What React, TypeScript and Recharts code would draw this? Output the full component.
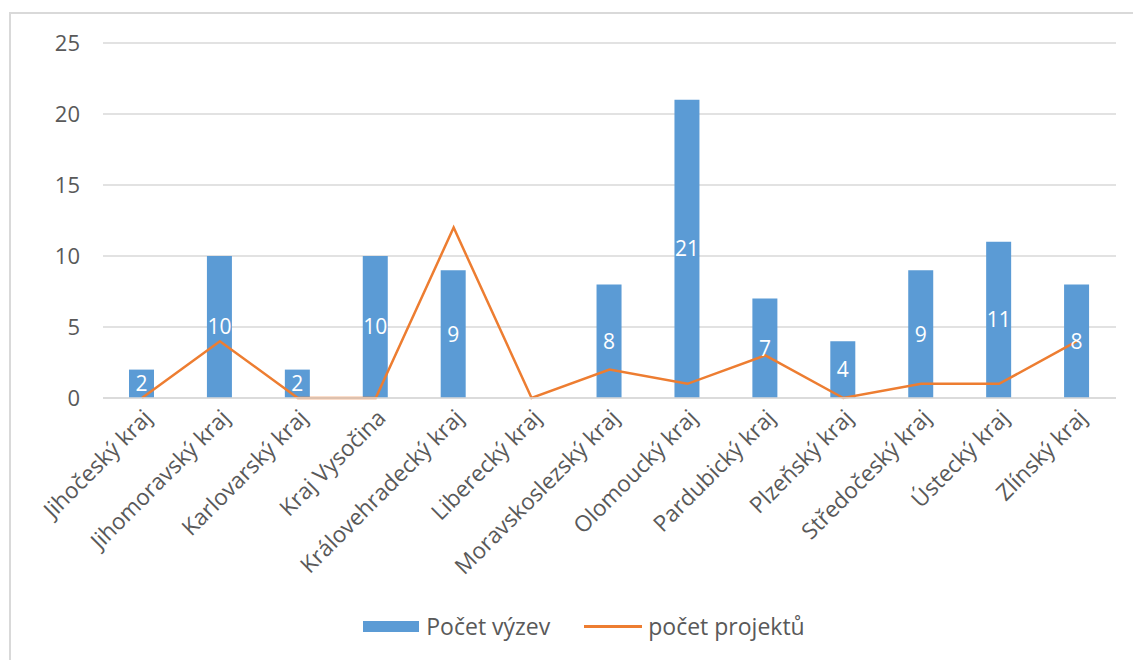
import React from "react"
import {
  ComposedChart,
  Bar,
  Line,
  XAxis,
  YAxis,
  CartesianGrid,
  Legend,
  LabelList,
} from "recharts"

const regions = [
  "Jihočeský kraj",
  "Jihomoravský kraj",
  "Karlovarský kraj",
  "Kraj Vysočina",
  "Královehradecký kraj",
  "Liberecký kraj",
  "Moravskoslezský kraj",
  "Olomoucký kraj",
  "Pardubický kraj",
  "Plzeňský kraj",
  "Středočeský kraj",
  "Ústecký kraj",
  "Zlínský kraj",
]
const vyzvy = [2, 10, 2, 10, 9, 0, 8, 21, 7, 4, 9, 11, 8]
const projekty = [0, 4, 0, 0, 12, 0, 2, 1, 3, 0, 1, 1, 4]
const yTicks = [0, 5, 10, 15, 20, 25]

const data = regions.map((name, i) => ({
  name,
  vyzvy: vyzvy[i],
  projekty: projekty[i],
}))

const FONT = "'Open Sans', sans-serif"
const BLUE = "#5B9BD5"
const ORANGE = "#ED7D31"
const TEXT = "#595959"

function LegendBox() {
  return (
    <div
      style={{
        display: "flex",
        justifyContent: "center",
        alignItems: "center",
        fontFamily: FONT,
        fontSize: 23,
        color: TEXT,
        gap: 34,
        paddingTop: 12,
        paddingLeft: 52,
      }}
    >
      <div style={{ display: "flex", alignItems: "center" }}>
        <span style={{ display: "inline-block", width: 56, height: 11, background: BLUE, marginRight: 7 }} />
        Počet výzev
      </div>
      <div style={{ display: "flex", alignItems: "center" }}>
        <span style={{ display: "inline-block", width: 58, height: 3, background: ORANGE, marginRight: 6 }} />
        počet projektů
      </div>
    </div>
  )
}

export default function App() {
  return (
    <div style={{ position: "absolute", left: 0, top: 0, width: 1133, height: 660, overflow: "hidden", background: "#fff" }}>
      <div
        style={{
          position: "absolute",
          left: 9,
          top: 12,
          width: 1200,
          height: 700,
          borderTop: "2px solid #d9d9d9",
          borderLeft: "2px solid #d9d9d9",
        }}
      />
      <div style={{ position: "absolute", left: 0, top: 0 }}>
        <ComposedChart
          width={1133}
          height={660}
          data={data}
          margin={{ top: 43, right: 17, bottom: 0, left: 0 }}
        >
          <CartesianGrid vertical={false} stroke="#d9d9d9" strokeWidth={1.5} />
          <XAxis
            dataKey="name"
            interval={0}
            tickLine={false}
            axisLine={{ stroke: "#d9d9d9", strokeWidth: 1.5 }}
            height={200}
            angle={-45}
            textAnchor="end"
            tick={{ fill: TEXT, fontSize: 22.5, fontFamily: FONT }}
            tickMargin={4}
          />
          <YAxis
            width={103}
            domain={[0, 25]}
            ticks={yTicks}
            tickLine={false}
            axisLine={false}
            tickMargin={17}
            tick={{ fill: TEXT, fontSize: 22, fontFamily: FONT }}
          />
          <Legend
            verticalAlign="bottom"
            height={62}
            content={() => <LegendBox />}
          />
          <Bar dataKey="vyzvy" fill={BLUE} barSize={25} isAnimationActive={false}>
            <LabelList
              dataKey="vyzvy"
              position="center"
              fill="#ffffff"
              fontSize={21}
              fontFamily={FONT}
              formatter={(v: number) => (v === 0 ? "" : v)}
            />
          </Bar>
          <Line
            type="linear"
            dataKey="projekty"
            stroke={ORANGE}
            strokeWidth={2.5}
            dot={false}
            activeDot={false}
            isAnimationActive={false}
          />
        </ComposedChart>
      </div>
    </div>
  )
}
